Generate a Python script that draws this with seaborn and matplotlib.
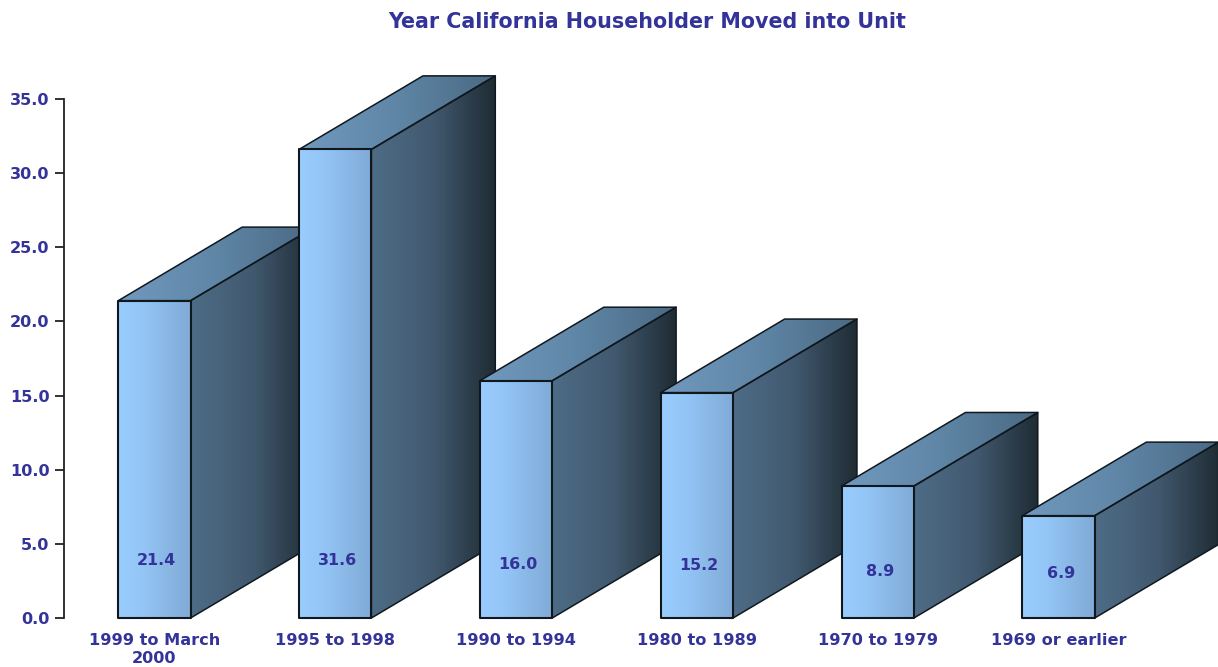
import numpy as np
import pandas as pd
import matplotlib
matplotlib.use("Agg")
import matplotlib.pyplot as plt
from matplotlib.colors import LinearSegmentedColormap
from matplotlib.patches import Polygon
import seaborn as sns

title = "Year California Householder Moved into Unit"
periods = ["1999 to March\n2000", "1995 to 1998", "1990 to 1994",
           "1980 to 1989", "1970 to 1979", "1969 or earlier"]
shares = [21.4, 31.6, 16.0, 15.2, 8.9, 6.9]
y_ticks = [0, 5, 10, 15, 20, 25, 30, 35]

TEXT = "#333399"
EDGE = "#10181e"
DX, DY = 0.685, 4.96   # 3D depth, in data units

sns.set_theme(style="ticks")
plt.rcParams["font.family"] = ["DejaVu Sans"]

W, H = 1218, 667
fig = plt.figure(figsize=(W / 100, H / 100), dpi=100, facecolor="white")
ax = fig.add_axes([64 / W, (H - 618) / H, (1149 - 64) / W, (618 - 99) / H])

df = pd.DataFrame({"period": periods, "share": shares})
sns.barplot(data=df, x="period", y="share", order=periods, width=0.4,
            color="#99CCFF", saturation=1, edgecolor=EDGE, linewidth=1.4, ax=ax)

ax.set_xlim(-0.5, 5.5)
ax.set_ylim(0, 35)
ax.autoscale(False)

front = LinearSegmentedColormap.from_list("f", ["#9ACDFF", "#93C5F6", "#8AB8E6", "#80AAD6"])
side = LinearSegmentedColormap.from_list("s", ["#4E6C86", "#41596F", "#1F2C34"])
top = LinearSegmentedColormap.from_list("t", ["#7199BE", "#5F86A6", "#4A6983"])
ramp = np.linspace(0, 1, 128).reshape(1, -1)


def shaded(points, cmap, z, lw=1.1):
    pts = np.array(points)
    poly = Polygon(pts, closed=True, facecolor="none", edgecolor=EDGE,
                   linewidth=lw, zorder=z + 0.2, clip_on=False, joinstyle="round")
    ax.add_patch(poly)
    img = ax.imshow(ramp, cmap=cmap, aspect="auto", zorder=z,
                    extent=[pts[:, 0].min(), pts[:, 0].max(), pts[:, 1].min(), pts[:, 1].max()],
                    interpolation="bilinear")
    img.set_clip_box(fig.bbox)
    img.set_clip_path(poly)


for i, bar in enumerate(ax.patches[:len(shares)]):
    x0, w, h = bar.get_x(), bar.get_width(), bar.get_height()
    x1 = x0 + w
    z = 3 + i * 2
    shaded([(x1, 0), (x1 + DX, DY), (x1 + DX, h + DY), (x1, h)], side, z)
    shaded([(x0, h), (x0 + DX, h + DY), (x1 + DX, h + DY), (x1, h)], top, z)
    shaded([(x0, 0), (x0, h), (x1, h), (x1, 0)], front, z + 0.5, lw=1.5)
    bar.set_visible(False)
    ax.text(x0 + w / 2 + 0.012, min(3.9, 2.5 + 0.07 * h), f"{h:.1f}", color=TEXT,
            fontsize=11.4, fontweight="bold", ha="center", va="center", zorder=z + 1)

ax.set_xlabel("")
ax.set_ylabel("")
ax.set_yticks(y_ticks)
ax.set_yticklabels([f"{v:.1f}" for v in y_ticks], color=TEXT, fontsize=11.6, fontweight="bold")
ax.tick_params(axis="y", length=6.5, width=1.3, color="#222222", pad=4)
ax.tick_params(axis="x", length=0, pad=11, labelsize=11.6, labelcolor=TEXT)
for lab in ax.get_xticklabels():
    lab.set_fontweight("bold")
    lab.set_linespacing(1.2)
for s in ("top", "right", "bottom"):
    ax.spines[s].set_visible(False)
ax.spines["left"].set_linewidth(1.3)
ax.spines["left"].set_color("#222222")

fig.text(647.5 / W, 1 - 22 / H, title, color=TEXT, fontsize=14.85, fontweight="bold",
         ha="center", va="center")
fig.savefig("out.png", dpi=100)
